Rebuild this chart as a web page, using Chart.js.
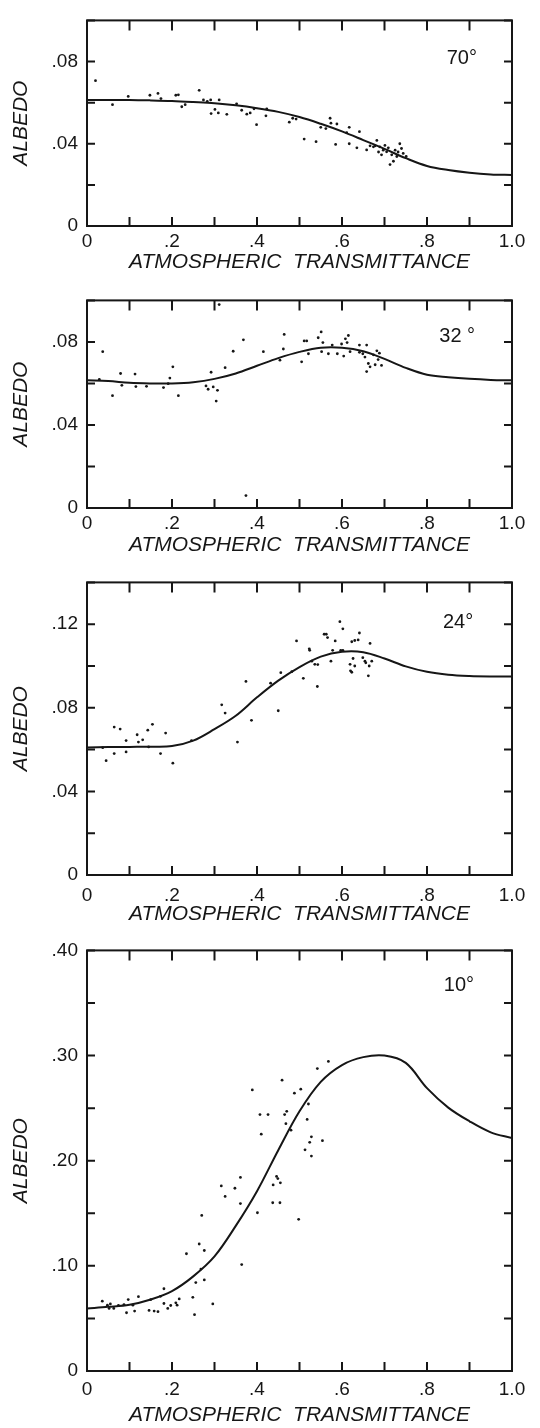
<!DOCTYPE html>
<html>
<head>
<meta charset="utf-8">
<script src="https://cdn.jsdelivr.net/npm/chart.js@4.4.0/dist/chart.umd.min.js"></script>
<style>
body{margin:0;background:#fff;width:540px;height:1428px;position:relative;overflow:hidden}
canvas{position:absolute;left:0}
</style>
</head>
<body>
<canvas id="c70" width="540" height="275" style="top:0px"></canvas>
<canvas id="c32" width="540" height="278" style="top:280px"></canvas>
<canvas id="c24" width="540" height="365" style="top:562px"></canvas>
<canvas id="c10" width="540" height="498" style="top:930px"></canvas>
<script>
// x positions of the fitted curves (same for all panels)
var curveX = [0,0.05,0.1,0.15,0.2,0.25,0.3,0.35,0.4,0.45,0.5,0.55,0.6,0.65,0.7,0.75,0.8,0.85,0.9,0.95,1.0]

var curve70 = [0.0613,0.0613,0.0613,0.0611,0.0608,0.0603,0.0597,0.0587,0.0573,0.0555,0.0530,0.0497,0.0460,0.0418,0.0375,0.0330,0.0292,0.0272,0.0259,0.0251,0.0248]
var curve32 = [0.0615,0.0612,0.0603,0.0600,0.0600,0.0606,0.0622,0.0648,0.0685,0.0722,0.0752,0.0772,0.0772,0.0755,0.0718,0.0675,0.0642,0.0630,0.0622,0.0617,0.0615]
var curve24 = [0.0610,0.0612,0.0613,0.0614,0.0617,0.0643,0.0698,0.0762,0.0850,0.0930,0.0995,0.1045,0.1068,0.1066,0.1036,0.0998,0.0972,0.0958,0.0952,0.0950,0.0950]
var curve10 = [0.0595,0.0610,0.0630,0.0680,0.0760,0.0900,0.1090,0.1380,0.1710,0.2100,0.2470,0.2750,0.2910,0.2985,0.3000,0.2930,0.2690,0.2505,0.2375,0.2270,0.2215]

// measured points [transmittance, albedo]
var pts70 = [[0.02,0.0707],[0.06,0.059],[0.097,0.063],[0.148,0.0636],[0.167,0.0645],[0.174,0.062],[0.209,0.0636],[0.215,0.0638],[0.223,0.058],[0.231,0.059],
  [0.264,0.066],[0.274,0.0613],[0.283,0.0606],[0.291,0.0613],[0.311,0.0613],[0.292,0.0547],[0.301,0.0567],[0.309,0.055],[0.329,0.0543],[0.352,0.0594],
  [0.364,0.0563],[0.376,0.0544],[0.384,0.055],[0.393,0.057],[0.399,0.0493],[0.421,0.0536],[0.423,0.057],[0.476,0.0505],[0.484,0.0524],[0.492,0.052],
  [0.511,0.0423],[0.539,0.041],[0.55,0.048],[0.562,0.0474],[0.572,0.0524],[0.574,0.05],[0.588,0.0496],[0.585,0.0397],[0.611,0.0454],[0.617,0.048],
  [0.617,0.04],[0.641,0.0459],[0.635,0.038],[0.682,0.0416],[0.678,0.039],[0.689,0.0385],[0.697,0.0369],[0.705,0.0361],[0.709,0.038],[0.717,0.0346],
  [0.713,0.0299],[0.721,0.0315],[0.729,0.0338],[0.736,0.04],[0.74,0.0377],[0.744,0.0353],[0.751,0.0338],[0.732,0.036],[0.725,0.0369],[0.701,0.0392],
  [0.693,0.0346],[0.686,0.036],[0.674,0.0385],[0.666,0.039],[0.658,0.037]]
var pts32 = [[0.037,0.0753],[0.029,0.0619],[0.06,0.0541],[0.079,0.0648],[0.082,0.0591],[0.113,0.0645],[0.115,0.0585],[0.14,0.0586],[0.18,0.058],[0.191,0.0599],
  [0.195,0.0626],[0.202,0.068],[0.215,0.0541],[0.28,0.0588],[0.285,0.0572],[0.292,0.0654],[0.297,0.0583],[0.304,0.0515],[0.307,0.0567],[0.311,0.098],
  [0.374,0.006],[0.325,0.0676],[0.344,0.0755],[0.368,0.081],[0.415,0.0753],[0.454,0.0712],[0.462,0.0766],[0.464,0.0836],[0.505,0.0704],[0.511,0.0805],
  [0.517,0.0805],[0.521,0.0743],[0.544,0.082],[0.551,0.0848],[0.552,0.0753],[0.555,0.0797],[0.568,0.0743],[0.577,0.0785],[0.589,0.0743],[0.599,0.079],
  [0.604,0.0732],[0.608,0.0815],[0.612,0.0797],[0.615,0.0831],[0.619,0.0753],[0.641,0.0785],[0.641,0.075],[0.649,0.0743],[0.654,0.0727],[0.658,0.0785],
  [0.658,0.0657],[0.662,0.0696],[0.666,0.068],[0.674,0.0738],[0.678,0.069],[0.682,0.0757],[0.688,0.0746],[0.693,0.0687],[0.685,0.0715]]
var pts24 = [[0.037,0.0609],[0.045,0.0547],[0.064,0.0708],[0.064,0.0581],[0.078,0.0698],[0.092,0.0643],[0.092,0.0589],[0.118,0.0671],[0.121,0.0636],[0.131,0.0647],
  [0.143,0.0693],[0.145,0.0613],[0.154,0.0721],[0.173,0.0581],[0.185,0.0679],[0.202,0.0535],[0.246,0.0643],[0.317,0.0814],[0.325,0.0775],[0.354,0.0636],
  [0.374,0.0926],[0.387,0.074],[0.432,0.0918],[0.45,0.0786],[0.456,0.0968],[0.482,0.0973],[0.493,0.112],[0.509,0.0941],[0.523,0.1082],[0.524,0.1075],
  [0.529,0.1023],[0.536,0.1008],[0.542,0.0902],[0.543,0.1007],[0.558,0.1152],[0.563,0.1152],[0.566,0.1136],[0.574,0.1023],[0.578,0.1075],[0.584,0.112],
  [0.595,0.1212],[0.602,0.1178],[0.597,0.1075],[0.602,0.1075],[0.619,0.1008],[0.62,0.0977],[0.623,0.097],[0.623,0.1116],[0.626,0.1036],[0.63,0.1122],
  [0.63,0.1],[0.638,0.1125],[0.641,0.1158],[0.649,0.104],[0.654,0.1023],[0.656,0.1015],[0.662,0.0953],[0.664,0.1],[0.666,0.1108],[0.67,0.1023]]
var pts10 = [[0.036,0.0664],[0.048,0.0626],[0.052,0.0595],[0.055,0.0638],[0.063,0.0595],[0.074,0.0623],[0.087,0.0632],[0.093,0.0554],[0.097,0.0679],[0.108,0.0626],
  [0.112,0.057],[0.121,0.0707],[0.146,0.0576],[0.15,0.0679],[0.158,0.057],[0.167,0.0564],[0.173,0.071],[0.181,0.0782],[0.181,0.0642],[0.19,0.0595],
  [0.197,0.0623],[0.209,0.0648],[0.212,0.0626],[0.217,0.0685],[0.234,0.1115],[0.249,0.0701],[0.253,0.0536],[0.256,0.0841],[0.264,0.1208],[0.268,0.0969],
  [0.27,0.148],[0.276,0.1146],[0.276,0.0866],[0.296,0.0638],[0.316,0.176],[0.325,0.166],[0.348,0.1738],[0.361,0.1841],[0.361,0.1592],[0.364,0.1012],
  [0.389,0.2673],[0.401,0.1505],[0.407,0.2439],[0.41,0.2252],[0.426,0.2439],[0.437,0.16],[0.438,0.177],[0.446,0.185],[0.449,0.183],[0.455,0.179],
  [0.454,0.16],[0.459,0.2766],[0.465,0.2439],[0.468,0.2352],[0.47,0.247],[0.48,0.229],[0.488,0.2642],[0.498,0.1442],[0.503,0.268],[0.513,0.2103],
  [0.518,0.2393],[0.521,0.2539],[0.524,0.2175],[0.528,0.2044],[0.528,0.2227],[0.542,0.2876],[0.568,0.2944],[0.554,0.219]]

var FONT = "'Liberation Sans', Arial, sans-serif"
var INK = '#161616'

// box, inward tick marks and the angle label
var frame = {
  id: 'frame',
  afterDatasetsDraw(chart, args, o) {
    var ctx = chart.ctx, a = chart.chartArea, x = chart.scales.x, y = chart.scales.y
    ctx.save()
    ctx.strokeStyle = INK
    ctx.lineWidth = 2
    ctx.strokeRect(a.left, a.top, a.right - a.left, a.bottom - a.top)
    ctx.beginPath()
    x.ticks.forEach(function(t) {
      var px = x.getPixelForValue(t.value)
      ctx.moveTo(px, a.bottom); ctx.lineTo(px, a.bottom - 9)
      ctx.moveTo(px, a.top); ctx.lineTo(px, a.top + 10)
    })
    y.ticks.forEach(function(t) {
      var py = y.getPixelForValue(t.value)
      ctx.moveTo(a.left, py); ctx.lineTo(a.left + 8, py)
      ctx.moveTo(a.right, py); ctx.lineTo(a.right - 8, py)
    })
    ctx.stroke()
    ctx.fillStyle = INK
    ctx.font = '20px ' + FONT
    ctx.textAlign = 'center'
    ctx.textBaseline = 'middle'
    ctx.fillText(o.label, x.getPixelForValue(o.lx), y.getPixelForValue(o.ly) - 1)
    ctx.restore()
  }
}

function isMult(v, step) {
  return Math.abs(v / step - Math.round(v / step)) < 1e-6
}

const makePanel = (id, curve, pts, cfg) => {
  new Chart(document.getElementById(id), {
    type: 'scatter',
    data: {
      datasets: [
        {
          data: curveX.map((x, i) => ({x: x, y: curve[i]})),
          showLine: true,
          borderColor: INK,
          borderWidth: 2,
          pointRadius: 0,
          tension: 0.35
        },
        {
          data: pts.map(p => ({x: p[0], y: p[1]})),
          pointRadius: 1.4,
          backgroundColor: INK,
          borderWidth: 0
        }
      ]
    },
    options: {
      responsive: false,
      animation: false,
      layout: {padding: {top: cfg.padTop, right: 28, left: 0, bottom: 0}},
      plugins: {
        legend: {display: false},
        tooltip: {enabled: false},
        frame: {label: cfg.label, lx: cfg.lx, ly: cfg.ly}
      },
      scales: {
        x: {
          type: 'linear', min: 0, max: 1,
          grid: {display: false, drawTicks: false},
          border: {display: false},
          ticks: {
            stepSize: 0.1, padding: cfg.xPad, autoSkip: false, maxRotation: 0,
            color: INK, font: {family: FONT, size: 19},
            callback: v => {
              if (!isMult(v, 0.2)) return ''
              if (v < 1e-6) return '0'
              if (v > 0.999) return '1.0'
              return v.toFixed(1).replace(/^0/, '')
            }
          },
          title: {display: true, text: 'ATMOSPHERIC  TRANSMITTANCE', color: INK, padding: 0,
                  font: {family: FONT, size: 21, style: 'italic'}},
          afterFit: s => { s.height = cfg.xHeight }
        },
        y: {
          type: 'linear', min: 0, max: cfg.yMax,
          grid: {display: false, drawTicks: false},
          border: {display: false},
          ticks: {
            stepSize: cfg.yStep, padding: 9, autoSkip: false,
            color: INK, font: {family: FONT, size: 19},
            callback: v => {
              if (!isMult(v, cfg.yLab)) return ''
              if (v < 1e-6) return '0'
              return v.toFixed(2).replace(/^0/, '')
            }
          },
          title: {display: true, text: 'ALBEDO', color: INK, padding: {top: 9, bottom: 0},
                  font: {family: FONT, size: 21, style: 'italic'}},
          afterFit: s => { s.width = 87 }
        }
      }
    },
    plugins: [frame]
  })
}

makePanel('c70', curve70, pts70, {padTop: 11, xHeight: 49, xPad: 4, yMax: 0.1, yStep: 0.02, yLab: 0.04, label: '70°', lx: 0.882, ly: 0.081})
makePanel('c32', curve32, pts32, {padTop: 13, xHeight: 50, xPad: 4, yMax: 0.1, yStep: 0.02, yLab: 0.04, label: '32 °', lx: 0.871, ly: 0.082})
makePanel('c24', curve24, pts24, {padTop: 12, xHeight: 52, xPad: 9, yMax: 0.14, yStep: 0.02, yLab: 0.04, label: '24°', lx: 0.873, ly: 0.1205})
makePanel('c10', curve10, pts10, {padTop: 13, xHeight: 57, xPad: 7, yMax: 0.4, yStep: 0.05, yLab: 0.1, label: '10°', lx: 0.875, ly: 0.3654})
</script>
</body>
</html>
